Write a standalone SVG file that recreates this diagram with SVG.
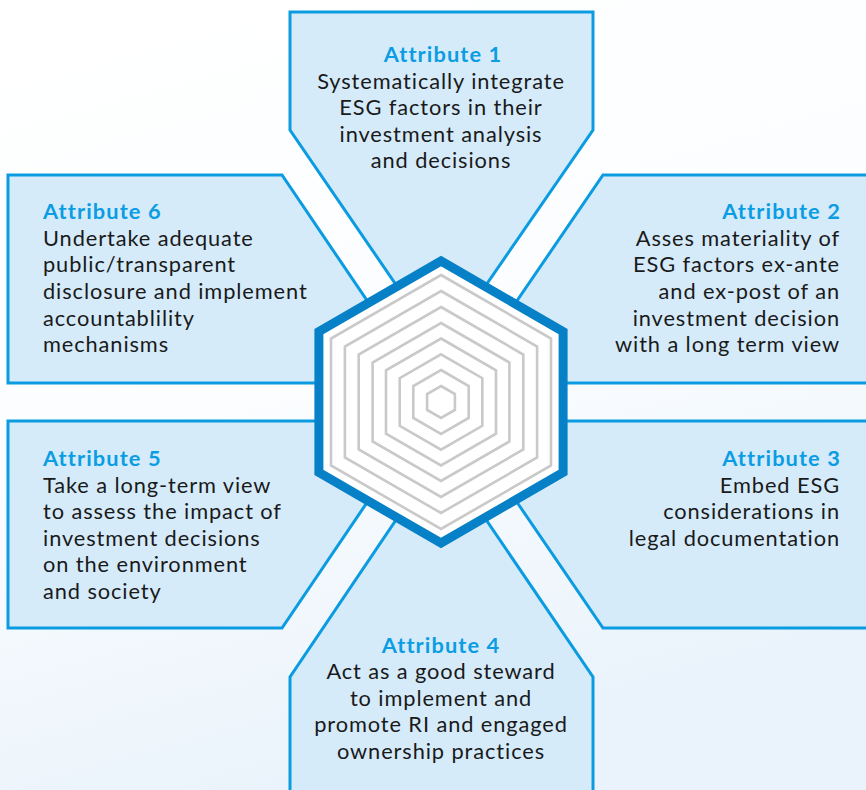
<svg xmlns="http://www.w3.org/2000/svg" width="866" height="790" viewBox="0 0 866 790">
<defs>
<linearGradient id="bg" x1="0" y1="0" x2="0.3" y2="1">
<stop offset="0" stop-color="#ffffff"/>
<stop offset="0.55" stop-color="#fbfdff"/>
<stop offset="1" stop-color="#eaf3fb"/>
</linearGradient>
<style>
.panel{fill:#d5ebfa;stroke:#0a9be0;stroke-width:3;stroke-linejoin:miter}
.t{font-family:Lato,"Open Sans","Liberation Sans",sans-serif;font-size:21.8px;letter-spacing:0.9px;fill:#1a1a1a}
.h{font-weight:bold;fill:#0a9de3;letter-spacing:1.1px}
.g{fill:none;stroke:#c9c9c9;stroke-width:2.6}
</style>
</defs>
<rect width="866" height="790" fill="url(#bg)"/>
<g id="attribute1">
<polygon class="panel" points="290,12 593,12 593,130 455,330 427,330 290,130"/>
<text class="t" text-anchor="middle" x="442"><tspan class="h" x="443" y="62">Attribute 1</tspan><tspan x="441" y="88.5">Systematically integrate</tspan><tspan x="441" y="115">ESG factors in their</tspan><tspan x="441" y="141.5">investment analysis</tspan><tspan x="441" y="168">and decisions</tspan></text>
</g>
<g id="attribute6">
<polygon class="panel" points="8,175 282,175 387,330 340,383 8,383"/>
<text class="t" x="43"><tspan class="h" x="43" y="219">Attribute 6</tspan><tspan x="43" y="245.5">Undertake adequate</tspan><tspan x="43" y="272">public/transparent</tspan><tspan x="43" y="299">disclosure and implement</tspan><tspan x="43" y="325.5">accountablility</tspan><tspan x="43" y="352">mechanisms</tspan></text>
</g>
<g id="attribute2">
<polygon class="panel" points="603,175 880,175 880,383 545,383 497,330"/>
<text class="t" text-anchor="end" x="840"><tspan class="h" x="841" y="219">Attribute 2</tspan><tspan x="840" y="245.5">Asses materiality of</tspan><tspan x="840" y="272">ESG factors ex-ante</tspan><tspan x="840" y="299">and ex-post of an</tspan><tspan x="840" y="325.5">investment decision</tspan><tspan x="840" y="352">with a long term view</tspan></text>
</g>
<g id="attribute5">
<polygon class="panel" points="8,421 340,421 387,473 282,628 8,628"/>
<text class="t" x="43"><tspan class="h" x="43" y="466">Attribute 5</tspan><tspan x="43" y="492.5">Take a long-term view</tspan><tspan x="43" y="519">to assess the impact of</tspan><tspan x="43" y="545.5">investment decisions</tspan><tspan x="43" y="572">on the environment</tspan><tspan x="43" y="599">and society</tspan></text>
</g>
<g id="attribute3">
<polygon class="panel" points="545,421 880,421 880,628 603,628 497,473"/>
<text class="t" text-anchor="end" x="840"><tspan class="h" x="841" y="466">Attribute 3</tspan><tspan x="840" y="492.5">Embed ESG</tspan><tspan x="840" y="519">considerations in</tspan><tspan x="840" y="545.5">legal documentation</tspan></text>
</g>
<g id="attribute4">
<polygon class="panel" points="427,474 455,474 593,677 593,800 290,800 290,677"/>
<text class="t" text-anchor="middle" x="441"><tspan class="h" x="441" y="652.5">Attribute 4</tspan><tspan x="441" y="679">Act as a good steward</tspan><tspan x="441" y="705.5">to implement and</tspan><tspan x="441" y="732">promote RI and engaged</tspan><tspan x="441" y="759">ownership practices</tspan></text>
</g>
<g id="hexagon">
<polygon points="441,261 563.1,331.5 563.1,472.5 441,543 318.9,472.5 318.9,331.5" fill="#ffffff" stroke="#0680c6" stroke-width="9" stroke-linejoin="miter"/>
<polygon class="g" points="441,275 551,338.5 551,465.5 441,529 331,465.5 331,338.5"/>
<polygon class="g" points="441,291 537.1,346.5 537.1,457.5 441,513 344.9,457.5 344.9,346.5"/>
<polygon class="g" points="441,307 523.3,354.5 523.3,449.5 441,497 358.7,449.5 358.7,354.5"/>
<polygon class="g" points="441,323 509.4,362.5 509.4,441.5 441,481 372.6,441.5 372.6,362.5"/>
<polygon class="g" points="441,338.5 496,370.25 496,433.75 441,465.5 386,433.75 386,370.25"/>
<polygon class="g" points="441,354.3 482.3,378.15 482.3,425.85 441,449.7 399.7,425.85 399.7,378.15"/>
<polygon class="g" points="441,370 468.7,386 468.7,418 441,434 413.3,418 413.3,386"/>
<polygon class="g" points="441,386 454.9,394 454.9,410 441,418 427.1,410 427.1,394"/>
</g>
<g id="connectors"/>
</svg>
